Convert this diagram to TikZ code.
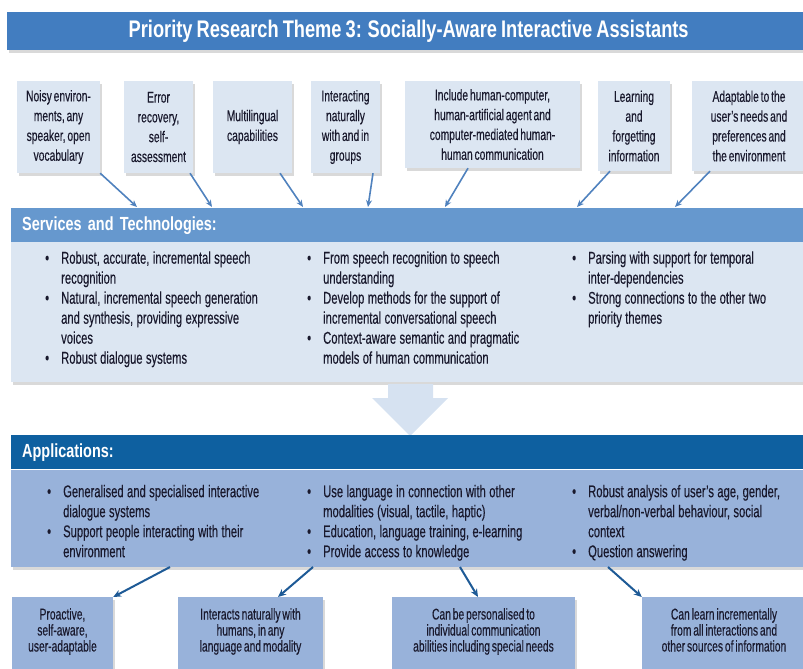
\documentclass[tikz,border=0pt]{standalone}
\usepackage{fontspec}
\setmainfont[FakeStretch=0.66,FakeBold=0.3,WordSpace=0.65]{Liberation Sans}
\newfontfamily\headfont[FakeStretch=0.76,WordSpace=0.8]{Liberation Sans}
\usetikzlibrary{arrows.meta,shadows}
\definecolor{themeblue}{RGB}{66,125,192}
\definecolor{servhead}{RGB}{102,152,206}
\definecolor{servfill}{RGB}{220,230,242}
\definecolor{apphead}{RGB}{14,96,160}
\definecolor{appfill}{RGB}{152,178,218}
\definecolor{bigarrow}{RGB}{214,226,241}
\definecolor{linkblue}{RGB}{80,130,190}
\definecolor{linkdark}{RGB}{30,90,150}
\definecolor{ink}{RGB}{25,25,45}
\newcommand\tightspace{\spaceskip=3.4pt\relax\xspaceskip=3.4pt\relax}
\begin{document}
\begin{tikzpicture}[x=1pt,y=-1pt,
  every node/.style={text=ink},
  shade/.style={drop shadow={shadow xshift=2pt,shadow yshift=-3pt,opacity=.3}},
  topbox/.style={fill=servfill,shade,align=center,inner sep=0pt,font=\fontsize{15.6}{19.8}\selectfont},
  botbox/.style={fill=appfill,shade,align=center,anchor=north,inner xsep=0pt,inner ysep=11pt,text depth=40pt,font=\fontsize{15.6}{16}\selectfont},
  header/.style={anchor=north west,text=white,font=\headfont\bfseries\fontsize{19}{20}\selectfont,minimum height=34pt,text width=780pt,inner xsep=11pt,inner ysep=0pt},
  panel/.style={anchor=north west,minimum width=800pt,inner sep=0pt,shade},
  bullets/.style={anchor=north west,inner sep=0pt,text width=260pt,font=\fontsize{17}{20}\selectfont},
  uplink/.style={draw=linkblue,line width=1.6pt,-{Stealth[length=7pt,width=6pt]}},
  downlink/.style={draw=linkdark,line width=2pt,-{Stealth[length=8pt,width=7pt]}}]
\newcommand\bul{\par\noindent\hangindent=16pt\hangafter=1\makebox[16pt][l]{\textbullet}}
\useasboundingbox (0,0) rectangle (803,669);
\clip (0,0) rectangle (803,669);

\node[fill=themeblue,anchor=north west,minimum width=803pt,minimum height=38pt,shade,text=white,
  font=\headfont\bfseries\fontsize{24}{25}\selectfont] (theme) at (7,12)
  {Priority Research Theme 3: Socially-Aware Interactive Assistants};

\node[topbox,minimum width=83pt,minimum height=92pt] (noisy) at (58.5,127) {Noisy environ-\\ments, any\\speaker, open\\vocabulary};
\node[topbox,minimum width=69pt,minimum height=92pt] (errorrec) at (158.5,127) {Error\\recovery,\\self-\\assessment};
\node[topbox,minimum width=79pt,minimum height=92pt] (multiling) at (252.5,127) {Multilingual\\capabilities};
\node[topbox,minimum width=69pt,minimum height=92pt] (groups) at (345.5,127) {Interacting\\naturally\\with and in\\groups};
\node[topbox,minimum width=175pt,minimum height=87pt] (humancomm) at (492.5,124.5) {Include human-computer,\\human-artificial agent and\\computer-mediated human-\\human communication};
\node[topbox,minimum width=72pt,minimum height=90pt] (learning) at (634,126) {Learning\\and\\forgetting\\information};
\node[topbox,minimum width=114pt,minimum height=90pt] (adaptable) at (749,126) {Adaptable to the\\user's needs and\\preferences and\\the environment};

\node[panel,fill=servfill,minimum height=140pt] (servbody) at (11,242) {};
\node[header,fill=servhead] (services) at (11,208) {Services and Technologies:};
\node[bullets] (servA) at (45,243.5) {\tightspace\bul Robust, accurate, incremental speech\newline recognition
  \bul Natural, incremental speech generation\newline and synthesis, providing expressive\newline voices
  \bul Robust dialogue systems\par};
\node[bullets] (servB) at (307,243.5) {\tightspace\bul From speech recognition to speech\newline understanding
  \bul Develop methods for the support of\newline incremental conversational speech
  \bul Context-aware semantic and pragmatic\newline models of human communication\par};
\node[bullets] (servC) at (572,243.5) {\tightspace\bul Parsing with support for temporal\newline inter-dependencies
  \bul Strong connections to the other two\newline priority themes\par};

\coordinate (s1) at (137,207);
\coordinate (s2) at (212,207);
\coordinate (s3) at (303,207);
\coordinate (s4) at (368,207);
\coordinate (s5) at (445,207);
\coordinate (s6) at (577,207);
\coordinate (s7) at (675,207);
\path[uplink] (noisy.south east) -- (s1);
\path[uplink] (errorrec.south -| 190,0) -- (s2);
\path[uplink] (multiling.south -| 280,0) -- (s3);
\path[uplink] (groups.south -| 373,0) -- (s4);
\path[uplink] (humancomm.south -| 468,0) -- (s5);
\path[uplink] (learning.south -| 610,0) -- (s6);
\path[uplink] (adaptable.south -| 710,0) -- (s7);

\path[fill=bigarrow] (388,384) -- (433,384) -- (433,398) -- (448,398) -- (410,436) -- (372,398) -- (388,398) -- cycle;

\node[panel,fill=appfill,minimum height=97pt] (appbody) at (11,470) {};
\node[header,fill=apphead] (apps) at (11,435) {Applications:};
\node[bullets] (appA) at (47,477) {\tightspace\bul Generalised and specialised interactive\newline dialogue systems
  \bul Support people interacting with their\newline environment\par};
\node[bullets] (appB) at (307,477) {\tightspace\bul Use language in connection with other\newline modalities (visual, tactile, haptic)
  \bul Education, language training, e-learning
  \bul Provide access to knowledge\par};
\node[bullets] (appC) at (572,477) {\tightspace\bul Robust analysis of user's age, gender,\newline verbal/non-verbal behaviour, social\newline context
  \bul Question answering\par};

\node[botbox,minimum width=101pt] (proactive) at (62.5,597) {Proactive,\\self-aware,\\user-adaptable};
\node[botbox,minimum width=145pt] (natural) at (250.5,597) {Interacts naturally with\\humans, in any\\language and modality};
\node[botbox,minimum width=183pt] (personal) at (483.5,597) {Can be personalised to\\individual communication\\abilities including special needs};
\node[botbox,minimum width=164pt] (incremental) at (724,597) {Can learn incrementally\\from all interactions and\\other sources of information};

\coordinate (a1) at (170,567);
\coordinate (a2) at (313,567);
\coordinate (a3) at (460,567);
\coordinate (a4) at (608,567);
\path[downlink] (a1) -- (proactive.north east);
\path[downlink] (a2) -- (natural.north -| 278,0);
\path[downlink] (a3) -- (personal.north -| 478,0);
\path[downlink] (a4) -- (incremental.north west);
\end{tikzpicture}
\end{document}
